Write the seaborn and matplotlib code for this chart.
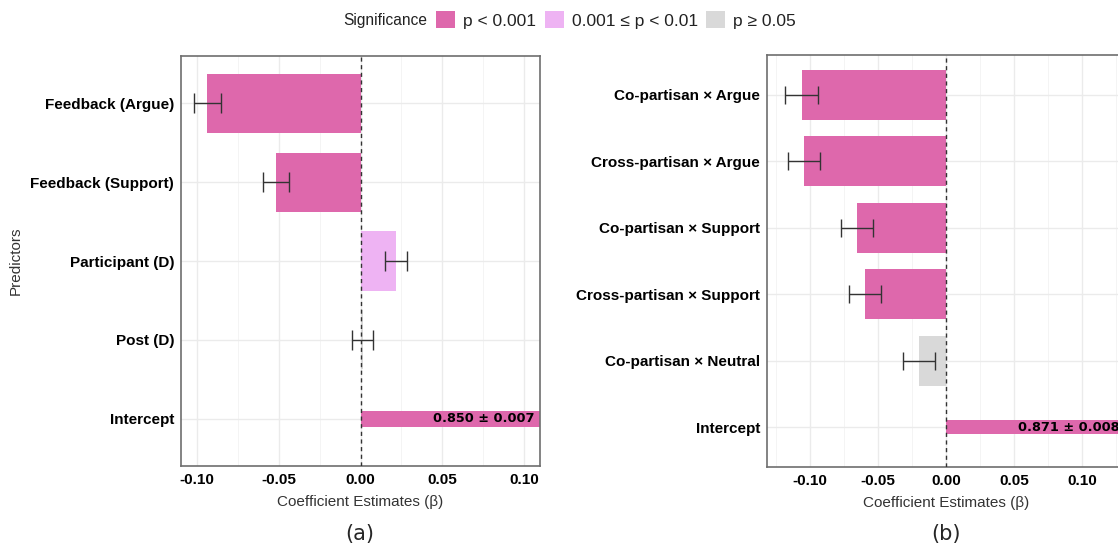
import numpy as np
import pandas as pd
import seaborn as sns
import matplotlib.pyplot as plt
from matplotlib.patches import Patch
from matplotlib.ticker import MultipleLocator, FormatStrFormatter

# significance levels and fills
sig_levels = ["p < 0.001", "0.001 ≤ p < 0.01", "p ≥ 0.05"]
sig_colors = ["#DE68AC", "#EEB3F3", "#D9D9D9"]

# panel (a)
preds_a = ["Feedback (Argue)", "Feedback (Support)", "Participant (D)", "Post (D)", "Intercept"]
coef_a = [-0.0935, -0.0515, 0.0215, 0.0013, 0.850]
err_a = [0.0083, 0.0080, 0.0067, 0.0066, 0.007]
sig_a = ["p < 0.001", "p < 0.001", "0.001 ≤ p < 0.01", "p ≥ 0.05", "p < 0.001"]

# panel (b)
preds_b = ["Co-partisan × Argue", "Cross-partisan × Argue", "Co-partisan × Support",
           "Cross-partisan × Support", "Co-partisan × Neutral", "Intercept"]
coef_b = [-0.1062, -0.1041, -0.0656, -0.0595, -0.0197, 0.871]
err_b = [0.0118, 0.0117, 0.0116, 0.0116, 0.0118, 0.008]
sig_b = ["p < 0.001", "p < 0.001", "p < 0.001", "p < 0.001", "p ≥ 0.05", "p < 0.001"]

sns.set_style("white")
plt.rcParams['font.family'] = ['Liberation Sans', 'DejaVu Sans']
plt.rcParams['axes.unicode_minus'] = False

palette = dict(zip(sig_levels, sig_colors))


def draw_panel(ax, preds, coef, err, sig, xmax, capsize):
    df = pd.DataFrame({"pred": preds, "coef": coef, "err": err, "sig": sig})
    is_int = df["pred"] == "Intercept"

    # regular bars are wide, the intercept bar is thin
    for sub, w in [(df[~is_int], 0.75), (df[is_int], 0.2)]:
        sns.barplot(data=sub, x="coef", y="pred", hue="sig", order=preds, hue_order=sig_levels,
                    palette=palette, width=w, dodge=False, linewidth=0, saturation=1,
                    errorbar=None, legend=False, ax=ax)

    ypos = np.arange(len(preds))
    ax.errorbar(df["coef"], ypos, xerr=df["err"], fmt='none', ecolor='#333333',
                elinewidth=1.0, capsize=capsize, capthick=1.0, zorder=3)
    ax.axvline(0, ls=(0, (3, 2.5)), color='#333333', lw=1.0, zorder=4)

    # intercept value written inside its bar
    for i in np.where(is_int)[0]:
        ax.text(0.986, ypos[i], "{:.3f} ± {:.3f}".format(coef[i], err[i]),
                transform=ax.get_yaxis_transform(), ha='right', va='center',
                fontsize=9.3, fontweight='bold', family='DejaVu Sans', color='black', zorder=5)

    ax.set_xlim(-xmax, xmax)
    ax.set_ylim(len(preds) - 1 + 0.6, -0.6)
    ax.xaxis.set_major_locator(MultipleLocator(0.05))
    ax.xaxis.set_minor_locator(MultipleLocator(0.025))
    ax.xaxis.set_major_formatter(FormatStrFormatter('%.2f'))
    ax.set_axisbelow(True)
    ax.grid(which='major', color='#EBEBEB', lw=1.0)
    ax.grid(which='minor', axis='x', color='#F3F3F3', lw=0.6)
    for s in ax.spines.values():
        s.set_visible(True)
        s.set_color('#6E6E6E')
        s.set_linewidth(1.2)
    ax.tick_params(which='major', length=2.75, width=0.8, color='#333333', pad=2.2,
                   labelsize=11, labelcolor='black')
    ax.tick_params(which='minor', length=0)
    plt.setp(ax.get_xticklabels(), fontweight='bold')
    plt.setp(ax.get_yticklabels(), fontweight='bold')

    ax.set_ylabel("")
    ax.set_xlabel("Coefficient Estimates (β)", fontsize=11, color='#333333')
    ax.xaxis.set_label_coords(0.5, -0.071)


fig = plt.figure(figsize=(11.18, 5.44), dpi=100)
ax_a = fig.add_axes([181 / 1118, 1 - 466 / 544, 359 / 1118, 410 / 544])
ax_b = fig.add_axes([767 / 1118, 1 - 467 / 544, 358 / 1118, 412 / 544])

draw_panel(ax_a, preds_a, coef_a, err_a, sig_a, 0.1095, 7.5)
draw_panel(ax_b, preds_b, coef_b, err_b, sig_b, 0.1316, 6.8)

ax_a.set_ylabel("Predictors", fontsize=11, color='#333333')
ax_a.yaxis.set_label_coords(-0.442, 0.5)

fig.text(360 / 1118, 1 - 534 / 544, "(a)", ha='center', va='center', fontsize=15, family='DejaVu Sans')
fig.text(946 / 1118, 1 - 534 / 544, "(b)", ha='center', va='center', fontsize=15, family='DejaVu Sans')

# legend on top, title to the left of the keys
fig.text(343 / 1118, 1 - 20 / 544, "Significance", ha='left', va='center', fontsize=11.2, color='#222222')
handles = [Patch(facecolor=c, edgecolor='none') for c in sig_colors]
fig.legend(handles, sig_levels, loc='center left', bbox_to_anchor=(436 / 1118, 1 - 20 / 544),
           ncol=3, frameon=False, fontsize=12.5, handlelength=1.1, handleheight=1.1,
           handletextpad=0.45, columnspacing=0.5, borderpad=0, borderaxespad=0,
           labelcolor='#222222')

plt.savefig('out.png', dpi=100)
